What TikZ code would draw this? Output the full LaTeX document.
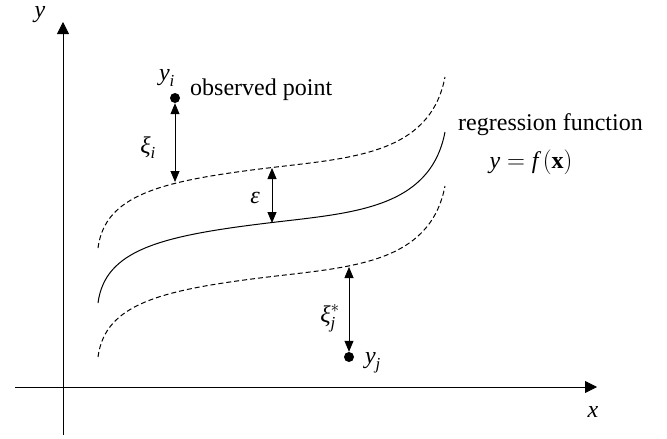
\documentclass[tikz,border=0pt]{standalone}
\usepackage{amsmath}
\usepackage{fontspec}
\setmainfont{Liberation Serif}
\usetikzlibrary{arrows.meta}
\newcommand\vi[1]{\text{\itshape #1}}
\begin{document}
\begin{tikzpicture}[x=1pt,y=-1pt,
  font=\fontsize{24}{28}\selectfont,
  solidcurve/.style={line width=1pt},
  dashcurve/.style={line width=1pt, dash pattern=on 5pt off 3pt},
  axisline/.style={line width=0.8pt, -{Triangle[length=12pt,width=12pt]}},
  gaparrow/.style={line width=0.8pt, {Triangle[length=11pt,width=9pt]}-{Triangle[length=11pt,width=9pt]}},
  dotnode/.style={circle, fill, inner sep=0pt, minimum size=10pt},
  lbl/.style={inner sep=0pt}]
\useasboundingbox (0,0) rectangle (667,439);
% axes
\coordinate (yb) at (63,435);
\coordinate (yt) at (63,22);
\coordinate (xl) at (15,387);
\coordinate (xr) at (597,387);
\draw[axisline] (yb) -- (yt);
\draw[axisline] (xl) -- (xr);
\node[lbl] (ylab) at (40,15) {$\vi{y}$};
\node[lbl] (xlab) at (593,412) {$\vi{x}$};
% regression function
\draw[solidcurve] (98,303) .. controls (105,250) and (160,236) .. (268,223) .. controls (350,213) and (430,210) .. (445,132);
% epsilon tube
\begin{scope}[yshift=55pt]
\draw[dashcurve] (98,303) .. controls (105,250) and (160,236) .. (268,223) .. controls (350,213) and (430,210) .. (445,132);
\end{scope}
\begin{scope}[yshift=-54pt]
\draw[dashcurve] (98,303) .. controls (105,250) and (160,236) .. (268,223) .. controls (350,213) and (430,210) .. (445,132);
\end{scope}
% observed points
\node[dotnode] (yi) at (175,98) {};
\node[dotnode] (yj) at (349,357) {};
\coordinate (ui) at (175,182);
\coordinate (ea) at (272,168);
\coordinate (eb) at (272,223);
\coordinate (ja) at (349,267);
\draw[gaparrow] (yi) -- (ui);
\draw[gaparrow] (ea) -- (eb);
\draw[gaparrow] (ja) -- (yj);
% labels
\node[lbl] (lyi) at (167,78) {$\vi{y}_{\vi{i}}$};
\node[lbl, anchor=base west] (obs) at (190,95) {observed point};
\node[lbl] (lxi) at (148,148) {$\vi{ξ}_{\vi{i}}$};
\node[lbl] (leps) at (255,198) {$\vi{ε}$};
\node[lbl] (lxj) at (330,318) {$\vi{ξ}_{\vi{j}}^{*}$};
\node[lbl] (lyj) at (373,363) {$\vi{y}_{\vi{j}}$};
\node[lbl, anchor=base west] (reg) at (458,130) {regression function};
\node[lbl, anchor=base] (fx) at (531,168) {$\vi{y} = \vi{f}\,(\text{\bfseries x})$};
\end{tikzpicture}
\end{document}
